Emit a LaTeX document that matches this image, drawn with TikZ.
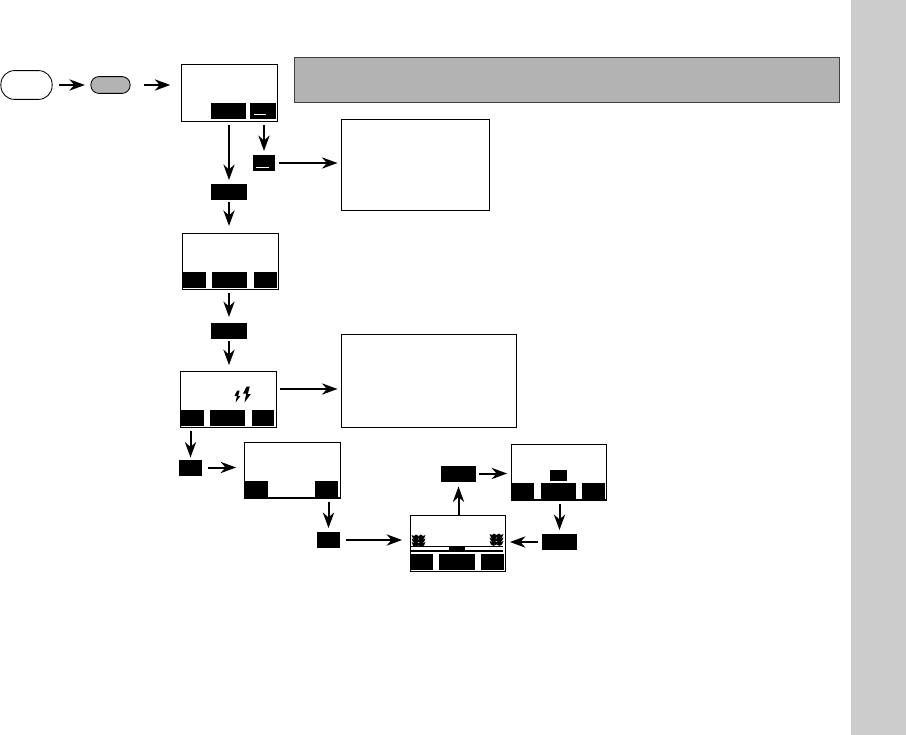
\documentclass[tikz,border=0pt]{standalone}
\usepackage{xcolor}
\usetikzlibrary{arrows.meta}
\definecolor{figline}{RGB}{0,0,0}
\definecolor{figband}{RGB}{179,179,179}
\definecolor{figside}{RGB}{204,204,204}
\tikzset{
  screen/.style ={draw=figline, fill=white, line width=0.9pt, inner sep=0pt, outer sep=0pt},
  infobox/.style={draw=figline, fill=white, line width=0.7pt, inner sep=0pt, outer sep=0pt},
  key/.style    ={fill=figline, inner sep=0pt, outer sep=0pt, minimum height=0.4cm},
  keyw/.style   ={key, minimum width=0.875cm},
  keyn/.style   ={key, minimum width=0.57cm},
  oval/.style   ={draw=figline, line width=0.6pt, inner sep=0pt, outer sep=0pt},
  flow/.style   ={draw=figline, line width=1.42pt, shorten <=0.09cm, shorten >=0.1cm,
                  -{Stealth[length=11pt,width=8pt,inset=3.5pt]}},
}
\begin{document}
\begin{tikzpicture}[x=0.025cm,y=-0.025cm]
  \useasboundingbox (0,0) rectangle (906,735);
  \node[fill=figside, inner sep=0pt, minimum width=1.375cm, minimum height=18.375cm] (side) at (878.5,367.5) {};
  \node[draw=figline!75, fill=figband, line width=0.7pt, inner sep=0pt, minimum width=13.625cm, minimum height=1.125cm] (band) at (566.8,79.5) {};
  % buttons
  \node[oval, fill=white, minimum width=1.28cm, minimum height=0.72cm, rounded corners=0.34cm] (power) at (26.5,85) {};
  \node[oval, fill=figband, minimum width=0.98cm, minimum height=0.42cm, rounded corners=0.2cm] (menu) at (110.5,85) {};
  % screens
  \node[screen, minimum width=2.4cm, minimum height=1.425cm] (scrA) at (229.5,93) {};
  \node[screen, minimum width=2.4cm, minimum height=1.4cm] (scrB) at (230.5,261.5) {};
  \node[screen, minimum width=2.4cm, minimum height=1.4cm] (scrC) at (228.5,399.5) {};
  \node[screen, minimum width=2.4cm, minimum height=1.39cm] (scrD) at (292.5,470.25) {};
  \node[screen, minimum width=2.375cm, minimum height=1.4cm] (scrE) at (458,543.5) {};
  \node[screen, minimum width=2.375cm, minimum height=1.39cm] (scrF) at (559,472.25) {};
  % boxes with the notes
  \node[infobox, minimum width=3.7cm, minimum height=2.275cm] (noteA) at (415.5,165) {};
  \node[infobox, minimum width=4.375cm, minimum height=2.325cm] (noteB) at (429,381) {};
  % keys on the screens
  \node[keyw] (a1) at (228.5,111) {};
  \node[keyn, minimum width=0.65cm] (a2) at (263,111) {};
  \node[keyn] (b1) at (194.5,280) {};
  \node[keyw] (b2) at (229.5,280) {};
  \node[keyn] (b3) at (265.5,280) {};
  \node[keyn] (c1) at (192.5,418) {};
  \node[keyw] (c2) at (227.5,418) {};
  \node[keyn] (c3) at (263,418) {};
  \node[keyn] (d1) at (256.5,488.5) {};
  \node[keyn] (d2) at (326.5,488.5) {};
  \node[keyn] (e1) at (422,562) {};
  \node[keyw, minimum width=0.9cm] (e2) at (457,562) {};
  \node[keyn] (e3) at (492.5,562) {};
  \node[keyn] (f1) at (523,491) {};
  \node[keyw] (f2) at (558.5,491) {};
  \node[keyn] (f3) at (593.5,491) {};
  \node[fill=figline, inner sep=0pt, minimum width=0.425cm, minimum height=0.275cm] (f4) at (558.5,475.5) {};
  \draw[white, line width=0.8pt] (254,114.5) -- (266,114.5);
  % keys between the screens
  \node[keyw] (keyA) at (229,192) {};
  \node[keyn, minimum width=0.55cm] (keyB) at (264,163) {};
  \node[keyw] (keyC) at (229,331) {};
  \node[keyn] (keyD) at (190.5,467.5) {};
  \node[keyn] (keyE) at (328.5,540) {};
  \node[keyw] (keyF) at (458.5,473.5) {};
  \node[keyw] (keyG) at (559.5,542) {};
  \draw[white, line width=0.8pt] (256,167.5) -- (269,167.5);
  % flash signs
  \foreach \px/\py/\ps in {237.5/396.5/0.75,247/394.5/1}{
    \fill[figline,shift={(\px,\py)},scale=\ps] (-0.5,-8) -- (-4,-1) -- (-0.8,-1) -- (-2.5,8) -- (3.8,-0.5) -- (0.8,-0.5) -- (2.8,-8) -- cycle;
  }
  % plants and the bar on the last screen
  \foreach \px/\py in {418.5/541,496.5/540}{
    \foreach \dy in {-3.5,0,3.5}{
      \fill[figline,shift={(\px,\py+\dy)}] (-7,-2.6) -- (-4.5,-1.4) -- (-2.5,-3) -- (0,-1.4) -- (2.5,-3) -- (4.5,-1.4) -- (7,-2.6) -- (5.5,1) -- (3,2.4) -- (0,1) -- (-3,2.4) -- (-5.5,1) -- cycle;
    }
  }
  \draw[figline, line width=0.8pt] (411,546.5) -- (503,546.5);
  \draw[figline, line width=0.8pt] (411,551) -- (503,551);
  \fill[figline] (449,546) rectangle (465,551);
  % connectors
  \draw[flow, shorten <=0.175cm, shorten >=0.15cm] (power) -- (menu);
  \draw[flow, shorten <=0.35cm, shorten >=0.28cm] (menu) -- (menu -| scrA.west);
  \draw[flow] (scrA.south -| keyA) -- (keyA.north);
  \draw[flow] (scrA.south -| keyB) -- (keyB.north);
  \draw[flow] (keyB.east) -- (keyB -| noteA.west);
  \draw[flow, shorten <=0.05cm, shorten >=0.19cm] (keyA.south) -- (keyA |- scrB.north);
  \draw[flow, shorten >=0.15cm] (scrB.south -| keyC) -- (keyC.north);
  \draw[flow, shorten <=0.05cm, shorten >=0.16cm] (keyC.south) -- (keyC |- scrC.north);
  \draw[flow] (scrC.east |- 0,389) -- (noteB.west |- 0,389);
  \draw[flow, xshift=0.0375cm, shorten >=0.05cm] (scrC.south -| keyD) -- (keyD.north);
  \draw[flow, yshift=-0.0125cm, shorten <=0.15cm, shorten >=0.21cm] (keyD.east) -- (keyD -| scrD.west);
  \draw[flow, xshift=-0.0375cm] (scrD.south -| keyE) -- (keyE.north);
  \draw[flow, shorten <=0.15cm, shorten >=0.21cm] (keyE.east) -- (keyE -| scrE.west);
  \draw[flow, xshift=0.0125cm, shorten <=0pt, shorten >=0.125cm] (scrE.north -| keyF) -- (keyF.south);
  \draw[flow, yshift=-0.0125cm, shorten <=0.075cm, shorten >=0.11cm] (keyF.east) -- (keyF -| scrF.west);
  \draw[flow, xshift=-0.0125cm] (scrF.south -| keyG) -- (keyG.north);
  \draw[flow, shorten >=0.11cm] (keyG.west) -- (keyG -| scrE.east);
\end{tikzpicture}
\end{document}
